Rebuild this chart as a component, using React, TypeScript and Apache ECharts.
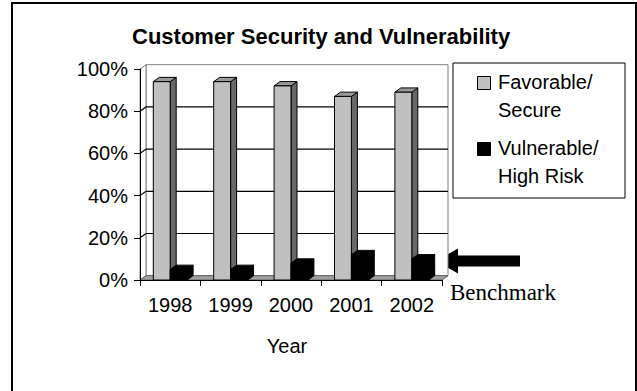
import React, { useEffect, useRef } from "react";
import * as echarts from "echarts";

// Survey results per year (share of customers)
const YEARS = ["1998", "1999", "2000", "2001", "2002"];
const FAVORABLE = [0.94, 0.94, 0.92, 0.87, 0.89];
const VULNERABLE = [0.05, 0.05, 0.08, 0.12, 0.1];
const Y_TICKS = [0, 0.2, 0.4, 0.6, 0.8, 1];
const SERIES_NAMES = ["Favorable/\nSecure", "Vulnerable/\nHigh Risk"];

const FONT = 'Arial, "Liberation Sans", sans-serif';
const SERIF = '"Times New Roman", "Liberation Serif", serif';

// pseudo-3D depth offset
const DX = 6;
const DY = 4.3;
const BAR_FRACTION = 0.28;

type Faces = { front: string; top: string; side: string };
const GRAY_FACES: Faces = { front: "#c0c0c0", top: "#9a9a9a", side: "#686868" };
const BLACK_FACES: Faces = { front: "#000000", top: "#000000", side: "#000000" };

function barRenderer(slot: 0 | 1, faces: Faces) {
  return (params: any, api: any) => {
    const idx = api.value(0);
    const v = api.value(1);
    const topPt = api.coord([idx, v]);
    const basePt = api.coord([idx, 0]);
    const w = api.size([1, 0])[0] * BAR_FRACTION;
    const x0 = slot === 0 ? topPt[0] - w : topPt[0];
    const x1 = x0 + w;
    const yT = topPt[1];
    const yB = basePt[1];
    const edge = { stroke: "#000", lineWidth: 1 };
    return {
      type: "group",
      children: [
        {
          type: "polygon",
          shape: { points: [[x1, yT], [x1 + DX, yT - DY], [x1 + DX, yB - DY], [x1, yB]] },
          style: { fill: faces.side, ...edge },
        },
        {
          type: "polygon",
          shape: { points: [[x0, yT], [x0 + DX, yT - DY], [x1 + DX, yT - DY], [x1, yT]] },
          style: { fill: faces.top, ...edge },
        },
        {
          type: "rect",
          shape: { x: x0, y: yT, width: w, height: yB - yT },
          style: { fill: faces.front, ...edge },
        },
      ],
    };
  };
}

// back wall, side wall, floor and the gridlines on the walls
function wallRenderer(params: any, api: any) {
  const cs = params.coordSys;
  const left = cs.x;
  const right = cs.x + cs.width;
  const top = cs.y;
  const bottom = cs.y + cs.height;
  const children: any[] = [];
  children.push({
    type: "rect",
    shape: { x: left + DX, y: top - DY, width: cs.width, height: cs.height },
    style: { fill: "#fff", stroke: "#808080", lineWidth: 1 },
  });
  children.push({
    type: "polygon",
    shape: { points: [[left, top], [left + DX, top - DY], [left + DX, bottom - DY], [left, bottom]] },
    style: { fill: "#fff", stroke: "#808080", lineWidth: 1 },
  });
  Y_TICKS.forEach((t) => {
    if (t === 0 || t === 1) return;
    const y = api.coord([0, t])[1];
    children.push({
      type: "polyline",
      shape: { points: [[left, y], [left + DX, y - DY], [right + DX, y - DY]] },
      style: { fill: "none", stroke: "#000", lineWidth: 1.2 },
    });
  });
  children.push({
    type: "polygon",
    shape: { points: [[left, bottom], [left + DX, bottom - DY], [right + DX, bottom - DY], [right, bottom]] },
    style: { fill: "#a0a0a0", stroke: "#606060", lineWidth: 1 },
  });
  return { type: "group", children };
}

export default function App() {
  const ref = useRef<HTMLDivElement>(null);

  useEffect(() => {
    document.body.style.margin = "0";
    if (!ref.current) return;
    const chart = echarts.init(ref.current, null, { renderer: "svg" });

    const favData = FAVORABLE.map((v, i) => [i, v]);
    const vulData = VULNERABLE.map((v, i) => [i, v]);

    chart.setOption({
      animation: false,
      backgroundColor: "#fff",
      title: {
        text: "Customer Security and Vulnerability",
        left: 127,
        top: 20,
        textStyle: { fontFamily: FONT, fontSize: 22, fontWeight: "bold", color: "#000" },
      },
      grid: { left: 140, top: 69, width: 302, height: 211, containLabel: false },
      xAxis: {
        type: "category",
        data: YEARS,
        z: 5,
        name: "Year",
        nameLocation: "middle",
        nameGap: 56,
        nameTextStyle: { fontFamily: FONT, fontSize: 20, color: "#000", padding: [0, 8, 0, 0] },
        axisLine: { lineStyle: { color: "#000", width: 1 } },
        axisTick: { show: true, length: 6, lineStyle: { color: "#000" } },
        axisLabel: { fontFamily: FONT, fontSize: 20, color: "#000", margin: 15 },
        splitLine: { show: false },
      },
      yAxis: {
        type: "value",
        min: 0,
        max: 1,
        interval: 0.2,
        z: 5,
        axisLine: { show: true, lineStyle: { color: "#000", width: 1 } },
        axisTick: { show: true, length: 6, lineStyle: { color: "#000" } },
        axisLabel: {
          fontFamily: FONT,
          fontSize: 20,
          color: "#000",
          margin: 12,
          formatter: (v: number) => `${Math.round(v * 100)}%`,
        },
        splitLine: { show: false },
      },
      series: [
        {
          type: "custom",
          name: "walls",
          silent: true,
          z: 1,
          data: [[0, 0]],
          renderItem: wallRenderer,
        },
        {
          type: "custom",
          name: SERIES_NAMES[0],
          z: 2,
          data: favData,
          encode: { x: 0, y: 1 },
          renderItem: barRenderer(0, GRAY_FACES),
        },
        {
          type: "custom",
          name: SERIES_NAMES[1],
          z: 3,
          data: vulData,
          encode: { x: 0, y: 1 },
          renderItem: barRenderer(1, BLACK_FACES),
        },
      ],
      graphic: [
        {
          type: "rect",
          z: 100,
          shape: { x: 12, y: 3, width: 624, height: 400 },
          style: { fill: "none", stroke: "#000", lineWidth: 2 },
        },
        // legend box
        {
          type: "rect",
          shape: { x: 453, y: 63, width: 172, height: 135 },
          style: { fill: "#fff", stroke: "#000", lineWidth: 1 },
        },
        {
          type: "rect",
          shape: { x: 477.5, y: 76.5, width: 13, height: 13 },
          style: { fill: GRAY_FACES.front, stroke: "#000", lineWidth: 1 },
        },
        {
          type: "text",
          x: 498,
          y: 67.5,
          style: {
            text: SERIES_NAMES[0],
            fontFamily: FONT,
            fontSize: 20,
            lineHeight: 28.5,
            fill: "#000",
            verticalAlign: "top",
          },
        },
        {
          type: "rect",
          shape: { x: 477.5, y: 142.5, width: 13, height: 13 },
          style: { fill: "#000", stroke: "#000", lineWidth: 1 },
        },
        {
          type: "text",
          x: 498,
          y: 133.5,
          style: {
            text: SERIES_NAMES[1],
            fontFamily: FONT,
            fontSize: 20,
            lineHeight: 28.5,
            fill: "#000",
            verticalAlign: "top",
          },
        },
        // benchmark arrow and label
        {
          type: "polygon",
          shape: {
            points: [
              [436, 261],
              [458, 248.5],
              [458, 255.5],
              [520, 255.5],
              [520, 266.5],
              [458, 266.5],
              [458, 273.5],
            ],
          },
          style: { fill: "#000" },
        },
        {
          type: "text",
          x: 450,
          y: 292,
          style: {
            text: "Benchmark",
            fontFamily: SERIF,
            fontSize: 23,
            fill: "#000",
            verticalAlign: "middle",
          },
        },
      ],
    });

    return () => chart.dispose();
  }, []);

  return (
    <div
      ref={ref}
      style={{ position: "fixed", left: 0, top: 0, width: 637, height: 391, background: "#fff" }}
    />
  );
}
